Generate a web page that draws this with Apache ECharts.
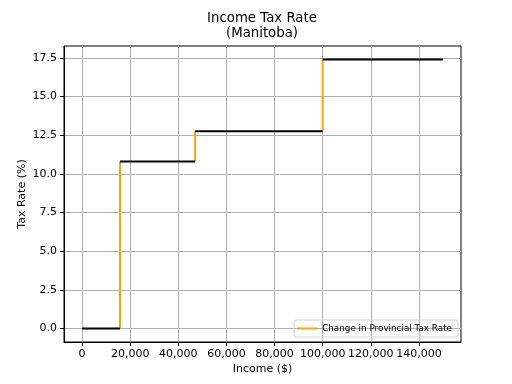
<!DOCTYPE html>
<html><head><meta charset="utf-8">
<script src="https://cdn.jsdelivr.net/npm/echarts@6/dist/echarts.min.js"></script>
<style>html,body{margin:0;padding:0;background:#fff}#c{width:512px;height:384px}</style>
</head><body><div id="c"></div>
<script>
var brackets = [0, 15780, 47000, 100000, 150000];
var rates = [0, 10.8, 12.75, 17.4];
var xTicks = [0, 20000, 40000, 60000, 80000, 100000, 120000, 140000];
var yTicks = [0, 2.5, 5, 7.5, 10, 12.5, 15, 17.5];

var flat = [], steps = [];
for (var i = 0; i < rates.length; i++) {
  if (i > 0) flat.push([brackets[i], null]);
  flat.push([brackets[i], rates[i]], [brackets[i + 1], rates[i]]);
}
for (var j = 1; j < rates.length; j++) {
  if (j > 1) steps.push([brackets[j], null]);
  steps.push([brackets[j], rates[j - 1]], [brackets[j], rates[j]]);
}
var xr = brackets[brackets.length - 1] - brackets[0];
var yr = rates[rates.length - 1] - rates[0];
var font = 'DejaVu Sans';
var chart = echarts.init(document.getElementById('c'));
chart.setOption({
  animation: false,
  title: {text: 'Income Tax Rate\n(Manitoba)', left: 262, top: 11, textAlign: 'center', padding: 0,
    textStyle: {fontFamily: font, fontSize: 13.3, fontWeight: 'normal', color: '#000', lineHeight: 15}},
  grid: {left: 64, right: 51, top: 46, bottom: 42, show: true, borderColor: '#000', borderWidth: 1},
  legend: {data: ['Change in Provincial Tax Rate'], right: 54, bottom: 47, orient: 'vertical',
    itemWidth: 20, itemHeight: 2, icon: 'rect', padding: [3, 6, 3, 3],
    borderColor: '#d0d0d0', borderWidth: 1, borderRadius: 2,
    textStyle: {fontFamily: font, fontSize: 8.8, color: '#000', lineHeight: 11}},
  xAxis: {type: 'value', min: brackets[0] - 0.05 * xr, max: brackets[brackets.length - 1] + 0.05 * xr,
    name: 'Income ($)', nameLocation: 'middle', nameGap: 22, nameMoveOverlap: false,
    nameTextStyle: {fontFamily: font, fontSize: 11, color: '#000'},
    axisLine: {onZero: false, lineStyle: {color: '#000'}},
    axisTick: {customValues: xTicks, length: 4, lineStyle: {color: '#000'}},
    axisLabel: {customValues: xTicks, margin: 7, fontFamily: font, fontSize: 11, color: '#000',
      formatter: function (v) { return v.toLocaleString('en-US'); }},
    splitLine: {show: true, lineStyle: {color: '#b0b0b0', width: 1}}},
  yAxis: {type: 'value', min: rates[0] - 0.05 * yr, max: rates[rates.length - 1] + 0.05 * yr,
    name: 'Tax Rate (%)', nameLocation: 'middle', nameGap: 36, nameMoveOverlap: false,
    nameTextStyle: {fontFamily: font, fontSize: 11, color: '#000'},
    axisLine: {onZero: false, lineStyle: {color: '#000'}},
    axisTick: {customValues: yTicks, length: 4, lineStyle: {color: '#000'}},
    axisLabel: {customValues: yTicks, margin: 7, fontFamily: font, fontSize: 11, color: '#000',
      formatter: function (v) { return v.toFixed(1); }},
    splitLine: {show: true, lineStyle: {color: '#b0b0b0', width: 1}}},
  series: [
    {type: 'line', name: 'Change in Provincial Tax Rate', data: steps, showSymbol: false, connectNulls: false,
      lineStyle: {color: '#ffa500', width: 2}, itemStyle: {color: '#ffa500'}, z: 2},
    {type: 'line', name: 'brackets', data: flat, showSymbol: false, connectNulls: false,
      lineStyle: {color: '#000', width: 2}, itemStyle: {color: '#000'}, z: 3}
  ]
});
</script></body></html>
